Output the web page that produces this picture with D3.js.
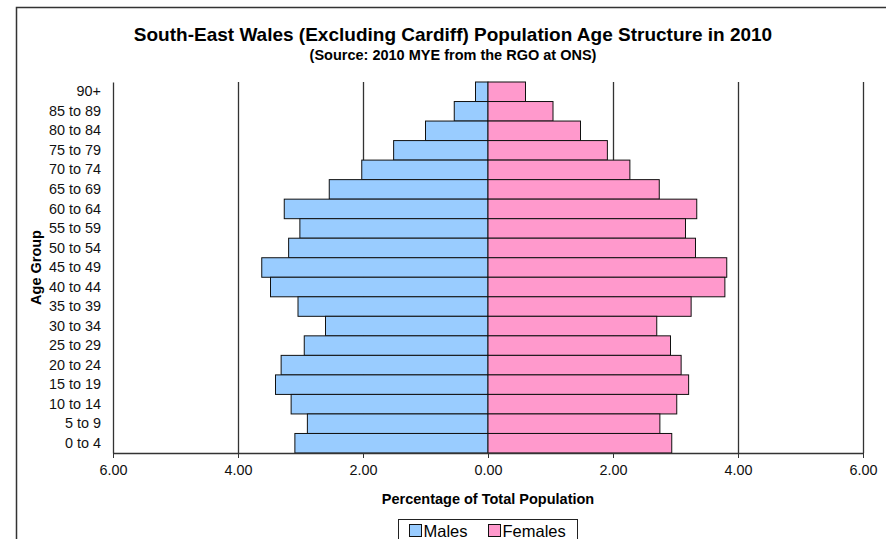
<!DOCTYPE html>
<html>
<head>
<meta charset="utf-8">
<script src="https://cdn.jsdelivr.net/npm/d3@7"></script>
<style>
  body { margin: 0; background: #fff; }
  svg { display: block; font-family: "Liberation Sans", Arial, sans-serif; }
</style>
</head>
<body>
<script>
// age groups, top to bottom
const ageGroups = ['90+', '85 to 89', '80 to 84', '75 to 79', '70 to 74', '65 to 69', '60 to 64',
  '55 to 59', '50 to 54', '45 to 49', '40 to 44', '35 to 39', '30 to 34', '25 to 29',
  '20 to 24', '15 to 19', '10 to 14', '5 to 9', '0 to 4'];

// percentage of total population
const males = [0.20, 0.54, 1.00, 1.51, 2.02, 2.54, 3.26, 3.01, 3.19, 3.62, 3.48, 3.04, 2.60, 2.94,
  3.31, 3.40, 3.15, 2.89, 3.09];
const females = [0.60, 1.04, 1.48, 1.91, 2.27, 2.74, 3.34, 3.16, 3.32, 3.82, 3.79, 3.25, 2.70, 2.92,
  3.09, 3.21, 3.02, 2.75, 2.94];

const xTicks = [-6, -4, -2, 0, 2, 4, 6];
const seriesNames = ['Males', 'Females'];
const seriesColors = ['#99ccff', '#ff99cc'];

const svgWidth = 886;
const svgHeight = 539;
const margin = { top: 82, right: 23, bottom: 86, left: 113 };
const width = svgWidth - margin.left - margin.right;
const height = svgHeight - margin.top - margin.bottom;

const svg = d3.select('body')
  .append('svg')
  .attr('width', svgWidth)
  .attr('height', svgHeight);

// outer chart frame (runs off the right and bottom edge)
svg.append('rect')
  .attr('x', 16.5)
  .attr('y', 7.5)
  .attr('width', 900)
  .attr('height', 600)
  .attr('fill', 'none')
  .attr('stroke', '#333')
  .attr('stroke-width', 1.5);

svg.append('text')
  .attr('x', 453)
  .attr('y', 41)
  .attr('text-anchor', 'middle')
  .style('font-size', '19px')
  .style('font-weight', 'bold')
  .text('South-East Wales (Excluding Cardiff) Population Age Structure in 2010');

svg.append('text')
  .attr('x', 453)
  .attr('y', 60)
  .attr('text-anchor', 'middle')
  .style('font-size', '14.5px')
  .style('font-weight', 'bold')
  .text('(Source: 2010 MYE from the RGO at ONS)');

const chart = svg.append('g')
  .attr('transform', `translate(${margin.left}, ${margin.top})`);

const xScale = d3.scaleLinear().domain([-6, 6]).range([0, width]);
const yScale = d3.scaleBand().domain(ageGroups).range([0, height]).padding(0);

// vertical grid lines
chart.append('g')
  .selectAll('line')
  .data(xTicks.filter(d => d !== -6 && d !== 0))
  .enter().append('line')
  .attr('x1', d => Math.round(xScale(d)) + 0.5)
  .attr('x2', d => Math.round(xScale(d)) + 0.5)
  .attr('y1', 0)
  .attr('y2', height)
  .attr('stroke', '#333')
  .attr('stroke-width', 1.3);

// male bars (drawn to the left)
chart.append('g')
  .selectAll('rect')
  .data(males)
  .enter().append('rect')
  .attr('x', d => xScale(-d))
  .attr('y', (d, i) => yScale(ageGroups[i]))
  .attr('width', d => xScale(0) - xScale(-d))
  .attr('height', yScale.bandwidth())
  .attr('fill', seriesColors[0])
  .attr('stroke', '#111')
  .attr('stroke-width', 1);

// female bars
chart.append('g')
  .selectAll('rect')
  .data(females)
  .enter().append('rect')
  .attr('x', xScale(0))
  .attr('y', (d, i) => yScale(ageGroups[i]))
  .attr('width', d => xScale(d) - xScale(0))
  .attr('height', yScale.bandwidth())
  .attr('fill', seriesColors[1])
  .attr('stroke', '#111')
  .attr('stroke-width', 1);

// x axis
const xAxis = chart.append('g')
  .attr('transform', `translate(0, ${height})`)
  .call(d3.axisBottom(xScale)
    .tickValues(xTicks)
    .tickSize(5)
    .tickSizeOuter(0)
    .tickFormat(d => Math.abs(d).toFixed(2)));
xAxis.select('.domain').attr('stroke', '#333').attr('stroke-width', 1.3);
xAxis.selectAll('.tick line').attr('stroke', '#333');
xAxis.selectAll('text')
  .attr('dy', '1.0em')
  .attr('fill', '#111')
  .style('font-size', '14.4px')
  .style('font-family', '"Liberation Sans", Arial, sans-serif');

// y axis
const yAxis = chart.append('g')
  .call(d3.axisLeft(yScale).tickSize(0).tickPadding(12));
yAxis.select('.domain').attr('stroke', '#333').attr('stroke-width', 1.3);
yAxis.selectAll('text')
  .attr('fill', '#111')
  .style('font-size', '14.4px')
  .style('font-family', '"Liberation Sans", Arial, sans-serif');

// axis titles
svg.append('text')
  .attr('x', margin.left + xScale(0))
  .attr('y', 504)
  .attr('text-anchor', 'middle')
  .style('font-size', '14.5px')
  .style('font-weight', 'bold')
  .text('Percentage of Total Population');

svg.append('text')
  .attr('transform', `translate(41, ${margin.top + height / 2}) rotate(-90)`)
  .attr('text-anchor', 'middle')
  .style('font-size', '14.5px')
  .style('font-weight', 'bold')
  .text('Age Group');

// legend
const legend = svg.append('g').attr('transform', 'translate(398.5, 519.5)');
legend.append('rect')
  .attr('width', 179)
  .attr('height', 40)
  .attr('fill', '#fff')
  .attr('stroke', '#222')
  .attr('stroke-width', 1);

const legendX = [11, 90];
seriesNames.forEach((name, i) => {
  legend.append('rect')
    .attr('x', legendX[i])
    .attr('y', 5)
    .attr('width', 12)
    .attr('height', 12)
    .attr('fill', seriesColors[i])
    .attr('stroke', '#111');
  legend.append('text')
    .attr('x', legendX[i] + 14)
    .attr('y', 17)
    .style('font-size', '16.5px')
    .text(name);
});
</script>
</body>
</html>
